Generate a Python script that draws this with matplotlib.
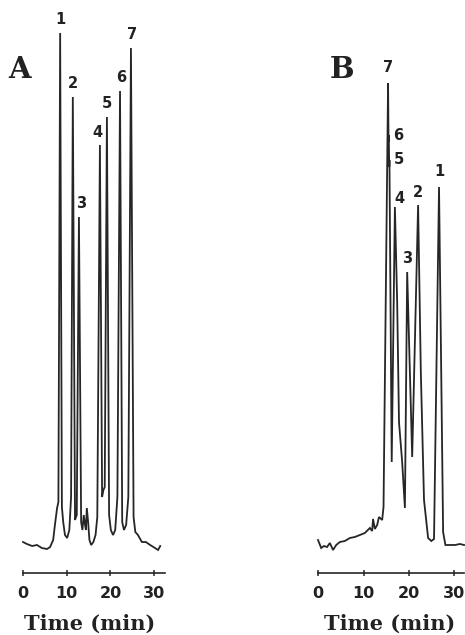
import matplotlib
matplotlib.use("Agg")
import matplotlib.pyplot as plt

# Chromatogram A: time (min) and detector response (arbitrary units)
time_a = [0.0, 0.9, 2.1, 3.2, 4.3, 5.5, 6.2, 6.9, 7.3, 7.8, 8.1, 8.5, 8.9, 9.2, 9.6,
          10.1, 10.6, 11.0, 11.4, 11.9, 12.3, 12.8, 13.3, 13.6, 13.9, 14.2, 14.4,
          14.6, 14.9, 15.2, 15.6, 16.1, 16.6, 17.0, 17.6, 18.1, 18.4, 18.7, 19.2,
          19.7, 20.1, 20.6, 21.1, 21.6, 22.2, 22.7, 23.1, 23.6, 24.1, 24.7, 25.3,
          25.7, 26.3, 27.2, 28.1, 29.1, 30.2, 30.9, 31.4]
signal_a = [1.0, 0.6, 0.2, 0.4, -0.2, -0.4, 0.0, 1.4, 4.4, 7.8, 9.0, 102.8, 8.0, 5.0, 2.4,
            1.8, 3.4, 10.0, 90.0, 5.4, 6.4, 66.0, 5.0, 3.4, 6.4, 4.4, 3.4,
            7.8, 5.0, 1.4, 0.4, 1.0, 2.4, 6.0, 80.4, 10.0, 11.4, 12.0, 86.0,
            6.4, 3.4, 2.4, 3.4, 10.0, 91.2, 5.0, 3.4, 4.4, 10.0, 99.8, 6.0,
            3.0, 2.4, 1.0, 1.0, 0.4, -0.2, -0.6, 0.2]

# Chromatogram B
time_b = [0.0, 0.7, 1.3, 2.0, 2.6, 3.3, 4.0, 4.8, 5.9, 7.0, 8.1, 9.2, 10.3, 11.4,
          11.9, 12.1, 12.5, 13.0, 13.4, 14.1, 14.4, 15.4, 15.5, 15.55, 15.65, 15.7,
          16.2, 16.9, 17.4, 17.8, 18.5, 19.1, 19.6, 20.7, 22.0, 22.6, 23.3, 24.2,
          24.9, 25.5, 26.6, 27.5, 28.0, 29.0, 30.1, 31.2, 32.1]
signal_b = [1.4, -0.2, 0.2, 0.0, 0.8, -0.6, 0.4, 1.0, 1.2, 1.8, 2.0, 2.4, 2.8, 3.8,
            3.2, 5.6, 3.6, 4.4, 6.0, 5.4, 8.0, 92.8, 81.0, 82.4, 76.0, 77.4,
            17.0, 68.0, 49.0, 25.0, 17.0, 7.8, 55.0, 18.0, 68.4, 35.0, 9.4, 1.8,
            1.2, 1.6, 72.0, 3.0, 0.4, 0.4, 0.4, 0.6, 0.4]

# Peak identities and apex positions
peak_names = ["1", "2", "3", "4", "5", "6", "7"]
peak_time_a = [8.5, 11.4, 12.8, 17.6, 19.2, 22.2, 24.7]
peak_height_a = [102.8, 90.0, 66.0, 80.4, 86.0, 91.2, 99.8]
peak_time_b = [26.6, 22.0, 19.6, 16.9, 15.7, 15.55, 15.4]
peak_height_b = [72.0, 68.4, 55.0, 68.0, 77.4, 82.4, 92.8]

time_ticks = [0, 10, 20, 30]

# label offsets in points (layout only)
offsets_a = [(0, 10), (0, 10), (1.5, 10), (-1.5, 9), (0, 10), (0.7, 10), (0.7, 10)]
offsets_b = [(0, 11), (0, 9), (0, 10), (3, 6), (6.5, 0), (6.5, 0), (0, 11)]

W, H = 465, 635
num_font = ["DejaVu Sans"]
serif_font = ["DejaVu Serif"]


def draw_panel(ax, t, s, pt, ph, offsets, xlim, axis_end):
    ax.plot(t, s, color="#262626", lw=1.3, solid_joinstyle="miter")
    ax.set_xlim(*xlim)
    ax.set_ylim(-5.2, 109.4)
    for side in ["left", "right", "top"]:
        ax.spines[side].set_visible(False)
    ax.spines["bottom"].set_bounds(0, axis_end)
    ax.spines["bottom"].set_linewidth(1.2)
    ax.spines["bottom"].set_color("#262626")
    ax.set_yticks([])
    ax.set_xticks(time_ticks)
    ax.set_xticklabels([str(v) for v in time_ticks], family=num_font,
                       fontweight="bold", fontsize=11.5, color="#222222")
    ax.tick_params(axis="x", direction="inout", length=4.3, width=1.1,
                   pad=7.5, color="#262626")
    ax.patch.set_alpha(0)
    for name, x, y, off in zip(peak_names, pt, ph, offsets):
        ax.annotate(name, (x, y), xytext=off, textcoords="offset points",
                    ha="center", va="center", family=num_font,
                    fontweight="bold", fontsize=10.5, color="#222222",
                    annotation_clip=False)


fig = plt.figure(figsize=(W / 100, H / 100), dpi=100)
fig.patch.set_facecolor("white")

ax_a = fig.add_axes([5 / W, 62 / H, 170 / W, 573 / H])
draw_panel(ax_a, time_a, signal_a, peak_time_a, peak_height_a, offsets_a,
           (-4.12, 34.78), 32.5)

ax_b = fig.add_axes([300 / W, 62 / H, 165 / W, 573 / H])
draw_panel(ax_b, time_b, signal_b, peak_time_b, peak_height_b, offsets_b,
           (-3.96, 32.31), 32.2)

# panel letters and axis titles
fig.text(20 / W, 1 - 70 / H, "A", family=serif_font, fontweight="bold",
         fontsize=21, ha="center", va="center", color="#222222")
fig.text(342 / W, 1 - 70 / H, "B", family=serif_font, fontweight="bold",
         fontsize=21, ha="center", va="center", color="#222222")
fig.text(90 / W, 1 - 624 / H, "Time (min)", family=serif_font,
         fontweight="bold", fontsize=15, ha="center", va="center", color="#222222")
fig.text(390 / W, 1 - 624 / H, "Time (min)", family=serif_font,
         fontweight="bold", fontsize=15, ha="center", va="center", color="#222222")

fig.savefig("out.png", dpi=100)
